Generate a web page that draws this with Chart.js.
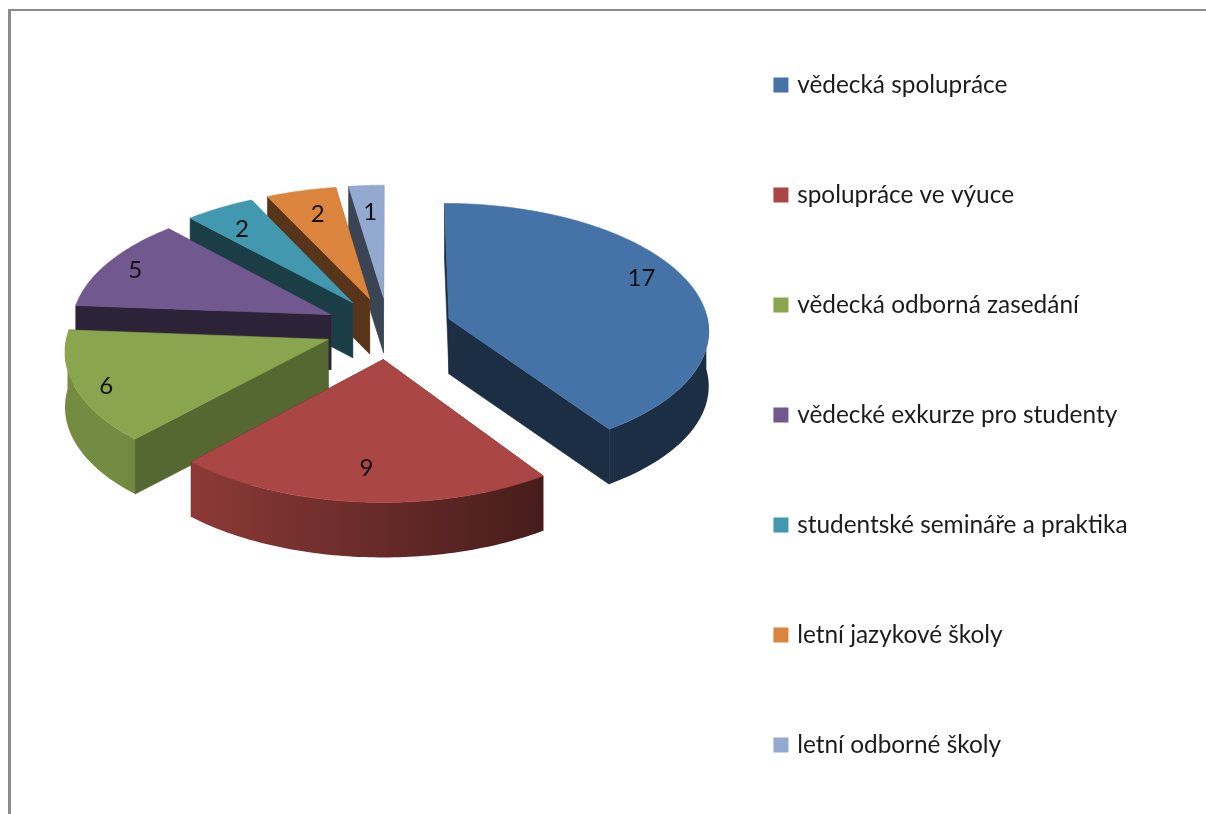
<!DOCTYPE html>
<html>
<head>
<meta charset="utf-8">
<script src="https://cdn.jsdelivr.net/npm/chart.js@4/dist/chart.umd.min.js"></script>
<style>
html,body{margin:0;padding:0;background:#fff;overflow:hidden;width:1206px;height:814px}
#frame{position:absolute;left:8px;top:9px;width:1300px;height:900px;border-left:3px solid #8c8c8c;border-top:2px solid #8c8c8c;box-sizing:border-box;filter:blur(.3px)}
#c{position:absolute;left:0;top:-99px;filter:blur(.45px)}
</style>
</head>
<body>
<div id="frame"></div>
<canvas id="c" width="1300" height="1028"></canvas>
<script>
const categories = ["vědecká spolupráce","spolupráce ve výuce","vědecká odborná zasedání","vědecké exkurze pro studenty","studentské semináře a praktika","letní jazykové školy","letní odborné školy"];
const values = [17,9,6,5,2,2,1];
const colors = ["#4572A7","#AA4643","#89A54E","#71588F","#4198AF","#DB843D","#93A9CF"];
const labelRadius = [0.84,0.78,0.89,0.87,0.78,0.77,0.75];
const labelTurn = [-6.3,0,-2,-0.7,-2,0.6,0];

const TILT = 0.485, PERSP = 0.08, DEPTH = 55, SHIFT_Y = -87;

function rgb(hex,f){
  const n=parseInt(hex.slice(1),16);
  return `rgb(${Math.round((n>>16&255)*f)},${Math.round((n>>8&255)*f)},${Math.round((n&255)*f)})`;
}
const pie3d = {
  id:'pie3d',
  beforeDatasetDraw(chart,args){
    const ctx=chart.ctx, arcs=args.meta.data;
    const order=arcs.map((a,i)=>i).sort((p,q)=>{
      const yOf=a=>Math.sin((a.startAngle+a.endAngle)/2);
      return yOf(arcs[p])-yOf(arcs[q]);
    });
    const R=arcs[0].outerRadius, cx=arcs[0].x, cy=arcs[0].y+SHIFT_Y;
    const proj=(X,Y,z)=>{
      const k=1/(1-PERSP*Y/R);
      return [cx+X*k, cy+Y*TILT*k+z];
    };
    const poly=(pts,col)=>{
      ctx.beginPath();
      pts.forEach((p,i)=>i?ctx.lineTo(p[0],p[1]):ctx.moveTo(p[0],p[1]));
      ctx.closePath();
      ctx.fillStyle=col; ctx.strokeStyle=typeof col==='string'?col:'rgba(0,0,0,0)'; ctx.lineWidth=0.6;
      ctx.fill(); ctx.stroke();
    };
    ctx.save();
    order.forEach(i=>{
      const a=arcs[i], col=a.options.backgroundColor, off=a.options.offset;
      const s=a.startAngle, e=a.endAngle, m=(s+e)/2;
      const ox=Math.cos(m)*off, oy=Math.sin(m)*off;
      const rim=(t,z)=>proj(ox+a.outerRadius*Math.cos(t),oy+a.outerRadius*Math.sin(t),z);
      const apex=z=>proj(ox,oy,z);
      const walls=[{t:s,ny:-Math.cos(s),nx:Math.sin(s)},{t:e,ny:Math.cos(e),nx:-Math.sin(e)}].sort((u,v)=>u.ny-v.ny);
      walls.forEach(w=>poly([apex(0),rim(w.t,0),rim(w.t,DEPTH),apex(DEPTH)],rgb(col,Math.max(0.4,0.4+0.315*w.nx))));
      const steps=Math.max(4,Math.round((e-s)*180/Math.PI));
      const angles=[];
      for(let j=0;j<=steps;j++){
        const t=s+(e-s)*j/steps;
        if(Math.sin(t)>=-0.05) angles.push(t);
      }
      if(angles.length>1){
        const upper=angles.map(t=>rim(t,0)), lower=angles.map(t=>rim(t,DEPTH)).reverse();
        const xs=upper.map(p=>p[0]);
        const x0=Math.min(...xs), x1=Math.max(...xs);
        const grad=ctx.createLinearGradient(x0,0,x1,0);
        angles.forEach((t,j)=>{
          const f=Math.min(0.85,Math.max(0.4,0.6-0.33*Math.cos(t)));
          const pos=(upper[j][0]-x0)/(x1-x0);
          grad.addColorStop(Math.min(1,Math.max(0,pos)),rgb(col,f));
        });
        poly(upper.concat(lower),grad);
      }
      const top=[apex(0)];
      for(let j=0;j<=steps;j++) top.push(rim(s+(e-s)*j/steps,0));
      poly(top,col);
    });
    ctx.font='24px Lato';
    ctx.fillStyle='#111';
    ctx.textAlign='center';
    ctx.textBaseline='middle';
    arcs.forEach((a,i)=>{
      const m=(a.startAngle+a.endAngle)/2, off=a.options.offset;
      const t=m+labelTurn[i]*Math.PI/180, r=a.outerRadius*labelRadius[i];
      const p=proj(Math.cos(m)*off+r*Math.cos(t),Math.sin(m)*off+r*Math.sin(t),0);
      ctx.fillText(String(chart.data.datasets[0].data[i]),p[0],p[1]);
    });
    ctx.restore();
    return false;
  }
};
new Chart(document.getElementById('c'),{
  type:'pie',
  data:{labels:categories,datasets:[{data:values,backgroundColor:colors,borderColor:colors,borderWidth:7,offset:64}]},
  options:{
    responsive:false,
    animation:false,
    devicePixelRatio:1,
    radius:260,
    rotation:0,
    layout:{padding:{left:85,right:162.5,top:0,bottom:0}},
    plugins:{
      tooltip:{enabled:false},
      legend:{
        position:'right',
        align:'center',
        labels:{boxWidth:8,boxHeight:8,padding:85.6,color:'#1c1c1c',font:{family:'Lato',size:24.4}}
      }
    }
  },
  plugins:[pie3d]
});
</script>
</body>
</html>
